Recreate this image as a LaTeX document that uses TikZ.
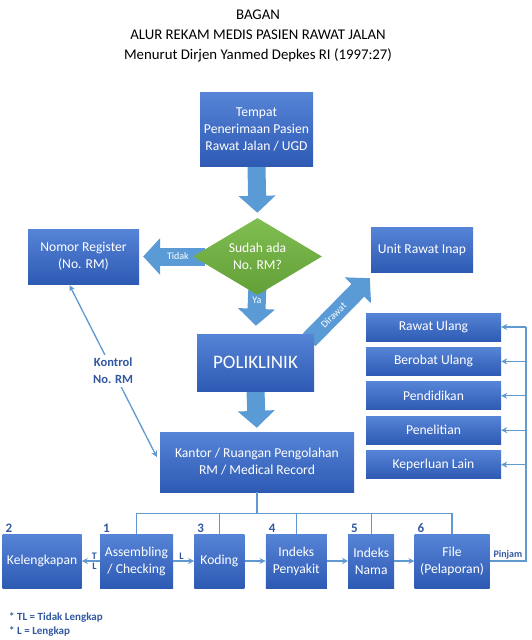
\documentclass[tikz,border=0pt]{standalone}
\usepackage{fontspec}
\setmainfont{Carlito}
\usetikzlibrary{positioning,shapes.geometric,arrows.meta,backgrounds,calc}

\definecolor{boxtop}{RGB}{86,132,214}
\definecolor{boxbot}{RGB}{46,90,180}
\definecolor{arrowblue}{RGB}{91,155,213}
\definecolor{linkblue}{RGB}{96,152,208}
\definecolor{labelblue}{RGB}{50,88,160}
\definecolor{greentop}{RGB}{128,190,82}
\definecolor{greenbot}{RGB}{98,160,56}

\begin{document}
\begin{tikzpicture}[x=1pt, y=-1pt,
    box/.style={rectangle, top color=boxtop, bottom color=boxbot, text=white,
        align=center, inner sep=2pt, font=\fontsize{13.6}{17}\selectfont},
    stack/.style={box, minimum width=135pt, minimum height=28pt},
    row/.style={box, minimum height=54pt},
    decision/.style={diamond, top color=greentop, bottom color=greenbot, text=white,
        align=center, aspect=1.67, minimum width=129pt, minimum height=77pt,
        inner sep=0pt, font=\fontsize{13.6}{17}\selectfont},
    bigarrow/.style={draw=arrowblue, line width=18pt, -{Triangle[width=36pt,length=17pt]}},
    link/.style={draw=linkblue, line width=1.3pt},
    >={Stealth[length=6pt,width=6pt]},
    tag/.style={text=white, inner sep=1pt, font=\fontsize{10}{11}\selectfont},
    flag/.style={text=labelblue, inner sep=1pt, font=\bfseries\fontsize{10}{11}\selectfont},
    num/.style={text=labelblue, anchor=south west, inner sep=1pt, xshift=2pt,
        font=\bfseries\fontsize{13}{14}\selectfont},
    note/.style={text=labelblue, align=center, font=\bfseries\fontsize{12.5}{17}\selectfont}
]
\useasboundingbox (0,0) rectangle (531,640);

\node[align=center, font=\fontsize{14.8}{20}\selectfont] (title) at (258,36)
    {BAGAN\\ALUR REKAM MEDIS PASIEN RAWAT JALAN\\Menurut Dirjen Yanmed Depkes RI (1997:27)};

\node[box, minimum width=113pt, minimum height=74pt] (tempat) at (256.5,129)
    {Tempat\\Penerimaan Pasien\\Rawat Jalan / UGD};
\node[decision] (sudah) at (257.5,256.5) {Sudah ada\\No. RM?};
\node[box, minimum width=111pt, minimum height=55pt] (nomor) at (83.5,256.5) {Nomor Register\\(No. RM)};
\node[box, minimum width=102pt, minimum height=45pt] (inap) at (422,249.5) {Unit Rawat Inap};
\node[box, minimum width=117pt, minimum height=57pt, font=\fontsize{19}{20}\selectfont] (poli)
    at (255.5,362.5) {POLIKLINIK};
\node[box, minimum width=194pt, minimum height=60pt] (kantor) at (257,462)
    {Kantor / Ruangan Pengolahan\\RM / Medical Record};

\node[stack] (rawat) at (433.5,327) {Rawat Ulang};
\node[stack, below=6pt of rawat] (berobat) {Berobat Ulang};
\node[stack, below=6pt of berobat] (didik) {Pendidikan};
\node[stack, below=6pt of didik] (teliti) {Penelitian};
\node[stack, below=6pt of teliti] (lain) {Keperluan Lain};

\node[row, minimum width=73pt] (asm) at (136.5,561) {Assembling\\/ Checking};
\node[row, minimum width=79pt, left=18pt of asm] (kel) {Kelengkapan};
\node[row, minimum width=50pt, right=21pt of asm] (kod) {Koding};
\node[row, minimum width=61pt, right=21pt of kod] (peny) {Indeks\\Penyakit};
\node[row, minimum width=46pt, right=21pt of peny] (nama) {Indeks\\Nama};
\node[row, minimum width=75pt, right=20pt of nama] (file) {File\\(Pelaporan)};

\node[num] (n2) at (kel.north west) {2};
\node[num] (n1) at (asm.north west) {1};
\node[num] (n3) at (kod.north west) {3};
\node[num] (n4) at (peny.north west) {4};
\node[num] (n5) at (nama.north west) {5};
\node[num] (n6) at (file.north west) {6};

\begin{scope}[on background layer]
    \draw[bigarrow, shorten >=5pt] (tempat.south) -- (sudah.north);
    \draw[bigarrow, shorten >=4pt] ($(sudah.west)+(12,0)$) -- node[tag, pos=0.41] {Tidak} (nomor.east);
    \draw[bigarrow, shorten >=8pt] ($(sudah.south)+(0,-10)$) -- node[tag, pos=0.32] {Ya} (poli.north);
    \draw[bigarrow, shorten >=4pt] (poli.south) -- (kantor.north);
    \draw[bigarrow] ($(poli.north east)+(-5,6)$) -- node[tag, sloped, pos=0.4] {Dirawat}
        ($(inap.south west)+(-1,6)$);
\end{scope}

\draw[link, <->] ($(kantor.west)+(-3,-5)$) -- node[note, fill=white] {Kontrol\\No. RM}
    ($(nomor.south)+(-14,1)$);

\draw[link] (kantor.south) -- ++(0,21) coordinate (bus);
\draw[link] (asm.north) -- (asm.north |- bus) -- (file.north |- bus) -- (file.north);
\foreach \b in {kod,peny,nama}
    \draw[link] (\b.north) -- (\b.north |- bus);

\draw[link, ->] (asm.west) -- node[flag, above, pos=0.3] {T} node[flag, below, pos=0.3] {L} (kel.east);
\draw[link, ->] (asm.east) -- node[flag, above, pos=0.4] {L} (kod.west);
\draw[link, ->] (kod.east) -- (peny.west);
\draw[link, ->] (peny.east) -- (nama.west);
\draw[link, ->] (nama.east) -- (file.west);

\coordinate (rail) at (526,561);
\draw[link] (file.east) -- node[flag, above] {Pinjam} (rail) -- (rail |- rawat.east);
\foreach \b in {rawat,berobat,didik,teliti,lain}
    \draw[link, ->] (rail |- \b.east) -- (\b.east);

\node[flag, anchor=west, font=\bfseries\fontsize{11}{12}\selectfont] (legtl) at (8,617) {* TL = Tidak Lengkap};
\node[flag, anchor=west, font=\bfseries\fontsize{11}{12}\selectfont] (legl) at (8,631) {* L = Lengkap};

\end{tikzpicture}
\end{document}
